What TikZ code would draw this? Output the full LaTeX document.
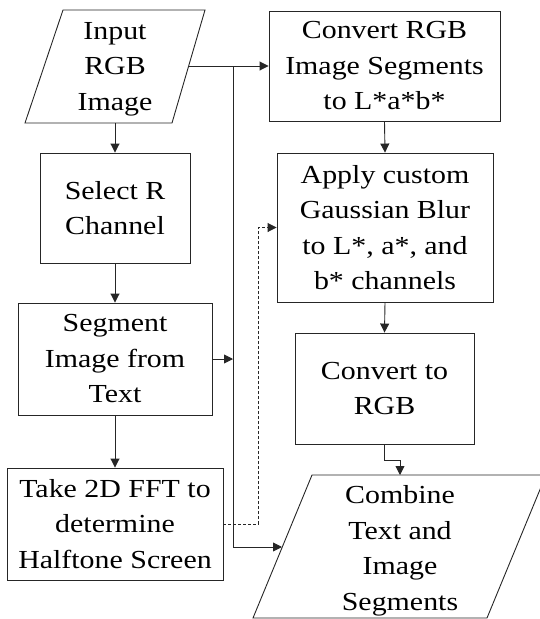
\documentclass[tikz,border=0pt]{standalone}
\usepackage{fontspec}
\setmainfont{Liberation Serif}[FakeStretch=1.15]
\usetikzlibrary{arrows.meta}
\begin{document}
\begin{tikzpicture}[x=1pt,y=-1pt,
  line/.style={draw=black!85, line width=0.9pt},
  lbl/.style={inner sep=0pt, align=center, font=\fontsize{26}{35.5}\selectfont},
  box/.style={line, lbl, rectangle},
  arr/.style={line, -{Triangle[length=9pt,width=9pt]}},
  dsh/.style={arr, dash pattern=on 3pt off 2pt}]
\useasboundingbox (0,0) rectangle (539,619);
% parallelogram: input
\coordinate (inTL) at (63,10);
\coordinate (inTR) at (205,10);
\coordinate (inBR) at (172,123);
\coordinate (inBL) at (25,123);
\draw[line] (inTL) -- (inTR) -- (inBR) -- (inBL) -- cycle;
\node[lbl] (input) at (115,69) {Input\\RGB\\Image};
\coordinate (inR) at (188,66);
\coordinate (inB) at (115,123);
% parallelogram: combine
\coordinate (cTL) at (312,475);
\coordinate (cTR) at (546,475);
\coordinate (cBR) at (487,618);
\coordinate (cBL) at (253,618);
\draw[line] (cTL) -- (cTR) -- (cBR) -- (cBL) -- cycle;
\node[lbl] (combine) at (400,551) {Combine\\Text and\\Image\\Segments};
\coordinate (cL) at (282,547);
\coordinate (cT) at (400,475);
% boxes
\node[box, minimum width=231pt, minimum height=110pt] (conv) at (384.5,66) {Convert RGB\\Image Segments\\to L*a*b*};
\node[box, minimum width=216pt, minimum height=149pt] (apply) at (385,227.5) {Apply custom\\Gaussian Blur\\to L*, a*, and\\b* channels};
\node[box, minimum width=179pt, minimum height=111pt] (torgb) at (384.5,388.5) {Convert to\\RGB};
\node[box, minimum width=150pt, minimum height=110pt] (selr) at (115,208) {Select R\\Channel};
\node[box, minimum width=194pt, minimum height=112pt] (seg) at (115,359) {Segment\\Image from\\Text};
\node[box, minimum width=216pt, minimum height=112pt] (fft) at (115,524) {Take 2D FFT to\\determine\\Halftone Screen};
% connectors
\coordinate (br) at (233,66);
\coordinate (brb) at (233,547);
\draw[arr] (inR) -- (conv.west);
\draw[arr] (br) -- (brb) -- (cL);
\draw[arr] (inB) -- (selr.north);
\draw[arr] (selr.south) -- (seg.north);
\draw[arr] (seg.south) -- (fft.north);
\draw[arr] (seg.east) -- (br |- seg.east);
\draw[dsh] (fft.east) -- ++(35,0) |- (apply.west);
\draw[arr] (conv.south) -- (apply.north);
\draw[arr] (apply.south) -- (torgb.south |- torgb.north);
\draw[arr] (torgb.south) -- ++(0,16) -| (cT);
\end{tikzpicture}
\end{document}
